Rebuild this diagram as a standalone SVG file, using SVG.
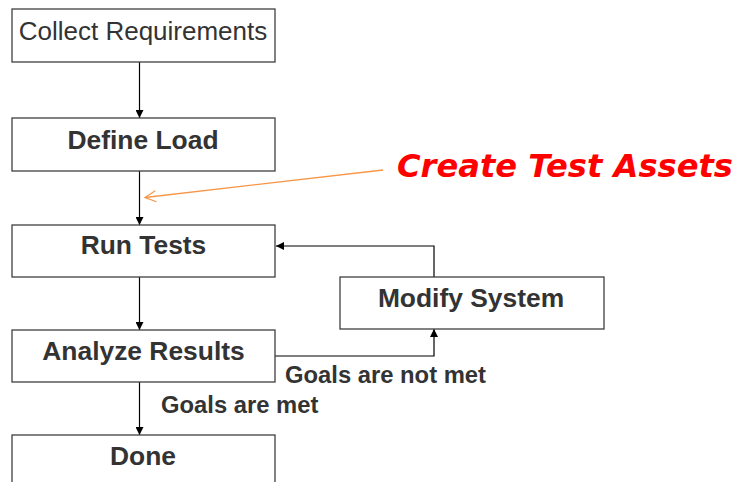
<svg xmlns="http://www.w3.org/2000/svg" width="738" height="482" viewBox="0 0 738 482">
<defs>
<marker id="ah" markerUnits="userSpaceOnUse" markerWidth="8" markerHeight="8" refX="8" refY="4" orient="auto">
<path d="M0,0 L8,4 L0,8 z" fill="#000"/>
</marker>
<marker id="oh" markerUnits="userSpaceOnUse" markerWidth="14" markerHeight="14" refX="12" refY="7" orient="auto">
<path d="M1,1.5 L12,7 L1,12.5" fill="none" stroke="#f79646" stroke-width="1.2"/>
</marker>
<style>
.box{fill:#fff;stroke:#404040;stroke-width:1.3}
.t{font-family:"Liberation Sans",Arial,sans-serif;font-size:26px;fill:#333;text-anchor:middle}
.b{font-weight:bold;font-size:26.4px}
.lbl{font-family:"Liberation Sans",Arial,sans-serif;font-size:23.8px;font-weight:bold;fill:#333}
.c{fill:none;stroke:#000;stroke-width:1.2}
</style>
</defs>
<rect width="738" height="482" fill="#fff"/>
<g id="connectors">
<line class="c" x1="139.5" y1="62" x2="139.5" y2="118" marker-end="url(#ah)"/>
<line class="c" x1="139.5" y1="171" x2="139.5" y2="225" marker-end="url(#ah)"/>
<line class="c" x1="139.5" y1="277" x2="139.5" y2="330" marker-end="url(#ah)"/>
<line class="c" x1="139.5" y1="382" x2="139.5" y2="435" marker-end="url(#ah)"/>
<polyline class="c" points="275,356 434,356 434,329" marker-end="url(#ah)"/>
<polyline class="c" points="434,277 434,246 276,246" marker-end="url(#ah)"/>
<line x1="383" y1="170" x2="145" y2="197.5" stroke="#f79646" stroke-width="1.3" marker-end="url(#oh)"/>
<text class="lbl" x="285" y="383">Goals are not met</text>
<text class="lbl" x="161" y="413">Goals are met</text>
</g>
<g id="collect">
<rect class="box" x="12" y="9" width="263" height="53"/>
<text class="t" x="143" y="40">Collect Requirements</text>
</g>
<g id="define">
<rect class="box" x="12" y="118" width="263" height="53"/>
<text class="t b" x="143" y="149">Define Load</text>
</g>
<g id="run">
<rect class="box" x="12" y="225" width="263" height="52"/>
<text class="t b" x="143.5" y="254">Run Tests</text>
</g>
<g id="analyze">
<rect class="box" x="12" y="330" width="263" height="52"/>
<text class="t b" x="143.5" y="360">Analyze Results</text>
</g>
<g id="done">
<rect class="box" x="12" y="435" width="263" height="60"/>
<text class="t b" x="143" y="465">Done</text>
</g>
<g id="modify">
<rect class="box" x="340" y="277" width="264" height="52"/>
<text class="t b" x="471" y="307">Modify System</text>
</g>
<g id="note">
<text x="397" y="177" font-family="'DejaVu Sans',sans-serif" font-size="32" font-weight="bold" font-style="italic" fill="#ff0000" textLength="336" lengthAdjust="spacingAndGlyphs">Create Test Assets</text>
</g>
</svg>
